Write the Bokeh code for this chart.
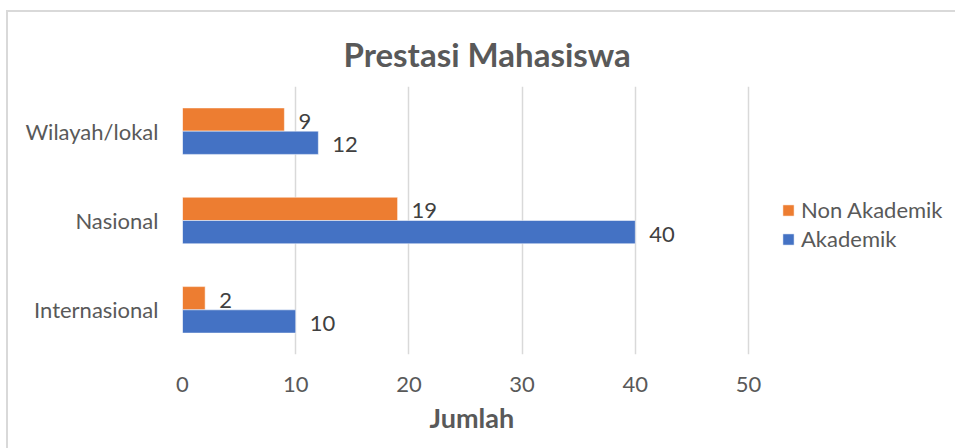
from bokeh.plotting import figure
from bokeh.models import (ColumnDataSource, FactorRange, FixedTicker, Legend,
                          LegendItem, Title, Range1d, InlineStyleSheet)
from bokeh.transform import dodge
from bokeh.embed import file_html
from bokeh.resources import INLINE
from bokeh.core.properties import value

# ---- data ----
categories = ["Internasional", "Nasional", "Wilayah/lokal"]
akademik = [10, 40, 12]
non_akademik = [2, 19, 9]
x_ticks = [0, 10, 20, 30, 40, 50]
series_names = ["Non Akademik", "Akademik"]
title_text = "Prestasi Mahasiswa"
x_label = "Jumlah"

FONT = "Lato"
TXT = "#595959"
ORANGE = "#ED7D31"
BLUE = "#4472C4"
BORDER = "#d9d9d9"

W, H = 955, 448
FRAME_L, FRAME_R, AXIS_END_PX = 182, 950, 748   # value 50 sits at 748 px
x_max = x_ticks[-1] * (FRAME_R - FRAME_L) / (AXIS_END_PX - FRAME_L)

src = ColumnDataSource(dict(
    cat=categories,
    ak=akademik,
    nak=non_akademik,
    ak_lbl=[str(v) for v in akademik],
    nak_lbl=[str(v) for v in non_akademik],
))

p = figure(width=W, height=H,
           y_range=FactorRange(*categories), x_range=Range1d(0, x_max),
           output_backend="svg", toolbar_location=None,
           min_border_left=FRAME_L, min_border_right=W - FRAME_R,
           min_border_top=86, min_border_bottom=H - 354)
p.outline_line_color = None
p.background_fill_color = "white"
p.border_fill_color = "white"
# chart-area border (top and left edges only), drawn as an overlay
p.stylesheets = [InlineStyleSheet(css=f"""
:host {{ position: relative; }}
:host::after {{
  content: "";
  position: absolute;
  left: 6px; top: 10px; right: 0; bottom: 0;
  border-left: 2px solid {BORDER};
  border-top: 2px solid {BORDER};
  pointer-events: none;
  z-index: 10;
}}
""")]

r_nak = p.hbar(y=dodge("cat", 0.13, range=p.y_range), left=0, right="nak",
               height=0.26, fill_color=ORANGE, line_color="white",
               line_width=0.5, source=src)
r_ak = p.hbar(y=dodge("cat", -0.13, range=p.y_range), left=0, right="ak",
              height=0.26, fill_color=BLUE, line_color="white",
              line_width=0.5, source=src)

p.text(x="nak", y=dodge("cat", 0.13, range=p.y_range), text="nak_lbl",
       x_offset=14, y_offset=2, text_align="left", text_baseline="middle",
       text_font=value(FONT), text_font_size="22px", text_color="#404040",
       source=src)
p.text(x="ak", y=dodge("cat", -0.13, range=p.y_range), text="ak_lbl",
       x_offset=14, y_offset=2, text_align="left", text_baseline="middle",
       text_font=value(FONT), text_font_size="22px", text_color="#404040",
       source=src)

# axes
p.xaxis.ticker = FixedTicker(ticks=x_ticks)
p.xaxis.axis_line_color = None
p.xaxis.major_tick_line_color = None
p.xaxis.minor_tick_line_color = None
p.xaxis.major_label_text_font = FONT
p.xaxis.major_label_text_font_size = "22px"
p.xaxis.major_label_text_color = TXT
p.xaxis.major_label_standoff = 16

p.yaxis.axis_line_color = None
p.yaxis.major_tick_line_color = None
p.yaxis.minor_tick_line_color = None
p.yaxis.major_label_text_font = FONT
p.yaxis.major_label_text_font_size = "22px"
p.yaxis.major_label_text_color = TXT
p.yaxis.major_label_standoff = 18

p.xgrid.grid_line_color = BORDER
p.xgrid.grid_line_width = 1.5
p.ygrid.grid_line_color = None

# title
p.add_layout(Title(text=title_text, align="left", offset=161, standoff=26,
                   text_font=FONT, text_font_style="bold",
                   text_font_size="33px", text_color=TXT), "above")

# x axis title
p.add_layout(Title(text=x_label, align="left", offset=247, standoff=8,
                   text_font=FONT, text_font_style="bold",
                   text_font_size="27px", text_color=TXT), "below")

# legend
legend = Legend(items=[LegendItem(label=series_names[0], renderers=[r_nak]),
                       LegendItem(label=series_names[1], renderers=[r_ak])],
                location=(599, 102), orientation="vertical",
                glyph_width=14, glyph_height=14, label_height=26,
                label_standoff=6, spacing=2, padding=0, margin=0,
                border_line_color=None, background_fill_alpha=0,
                label_text_font=FONT, label_text_font_size="22px",
                label_text_color=TXT)
p.add_layout(legend, "center")

open("out.html", "w").write(file_html(p, INLINE))
